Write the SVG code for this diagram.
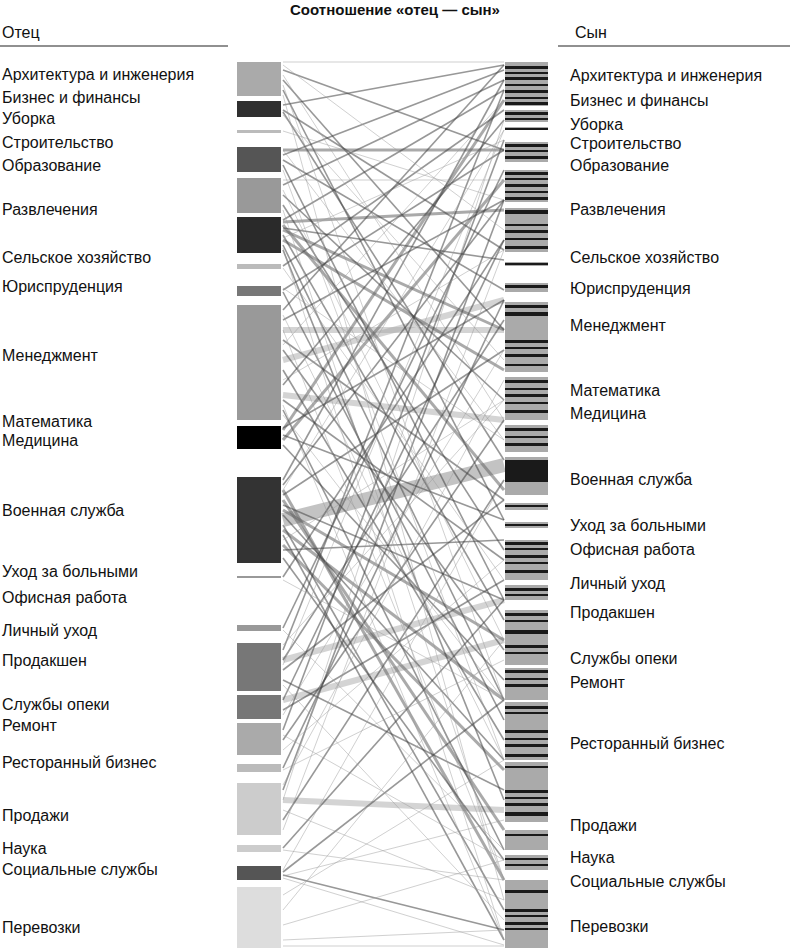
<svg xmlns="http://www.w3.org/2000/svg" width="790" height="951" viewBox="0 0 790 951">
<style>
text{font-family:"Liberation Sans",Arial,sans-serif;font-size:16px;fill:#111}
.title{font-weight:bold;font-size:15px}
.c line{stroke-linecap:butt}
.d{stroke:#444;stroke-width:1.6;opacity:.55}
.l{stroke:#999;stroke-width:1;opacity:.45}
.m{stroke:#666;stroke-width:3;opacity:.55}
.w{stroke:#aaa;stroke-width:6;opacity:.5}
.s{fill:#1a1a1a}
.g{fill:#aaa}
</style>
<rect width="790" height="951" fill="#fff"/>
<text class="title" x="395" y="15" text-anchor="middle">Соотношение «отец — сын»</text>
<text x="2" y="38">Отец</text>
<text x="575" y="38">Сын</text>
<line x1="0" y1="46" x2="228" y2="46" stroke="#222" stroke-width="1.2"/>
<line x1="558" y1="46" x2="790" y2="46" stroke="#222" stroke-width="1.2"/>

<g id="connectors" class="c">
<line class="w" x1="283" y1="330" x2="504" y2="330"/>
<line class="w" x1="283" y1="360" x2="504" y2="300"/>
<line class="w" x1="283" y1="395" x2="504" y2="420"/>
<line class="w" x1="283" y1="520" x2="504" y2="465" style="stroke-width:14;stroke:#888"/>
<line class="w" x1="283" y1="660" x2="504" y2="600"/>
<line class="w" x1="283" y1="700" x2="504" y2="640"/>
<line class="w" x1="283" y1="800" x2="504" y2="810"/>
<line class="m" x1="283" y1="222" x2="504" y2="210"/>
<line class="m" x1="283" y1="230" x2="504" y2="330"/>
<line class="m" x1="283" y1="240" x2="504" y2="370"/>
<line class="m" x1="283" y1="225" x2="504" y2="490"/>
<line class="m" x1="283" y1="150" x2="504" y2="150"/>
<line class="m" x1="283" y1="490" x2="504" y2="880"/>
<line class="m" x1="283" y1="500" x2="504" y2="830"/>
<line class="m" x1="283" y1="510" x2="504" y2="640"/>
<line class="m" x1="283" y1="530" x2="504" y2="700"/>
<line class="m" x1="283" y1="545" x2="504" y2="770"/>
<line class="m" x1="283" y1="440" x2="504" y2="180"/>
<line class="m" x1="283" y1="430" x2="504" y2="100"/>
<line class="d" x1="283" y1="70" x2="504" y2="150"/>
<line class="d" x1="283" y1="80" x2="504" y2="330"/>
<line class="d" x1="283" y1="90" x2="504" y2="520"/>
<line class="d" x1="283" y1="105" x2="504" y2="65"/>
<line class="d" x1="283" y1="110" x2="504" y2="250"/>
<line class="d" x1="283" y1="112" x2="504" y2="460"/>
<line class="d" x1="283" y1="155" x2="504" y2="70"/>
<line class="d" x1="283" y1="160" x2="504" y2="290"/>
<line class="d" x1="283" y1="165" x2="504" y2="600"/>
<line class="d" x1="283" y1="185" x2="504" y2="80"/>
<line class="d" x1="283" y1="195" x2="504" y2="400"/>
<line class="d" x1="283" y1="205" x2="504" y2="550"/>
<line class="d" x1="283" y1="220" x2="504" y2="90"/>
<line class="d" x1="283" y1="228" x2="504" y2="260"/>
<line class="d" x1="283" y1="235" x2="504" y2="620"/>
<line class="d" x1="283" y1="245" x2="504" y2="700"/>
<line class="d" x1="283" y1="250" x2="504" y2="800"/>
<line class="d" x1="283" y1="266" x2="504" y2="110"/>
<line class="d" x1="283" y1="290" x2="504" y2="150"/>
<line class="d" x1="283" y1="292" x2="504" y2="720"/>
<line class="d" x1="283" y1="310" x2="504" y2="65"/>
<line class="d" x1="283" y1="320" x2="504" y2="200"/>
<line class="d" x1="283" y1="340" x2="504" y2="500"/>
<line class="d" x1="283" y1="350" x2="504" y2="650"/>
<line class="d" x1="283" y1="370" x2="504" y2="740"/>
<line class="d" x1="283" y1="385" x2="504" y2="120"/>
<line class="d" x1="283" y1="400" x2="504" y2="560"/>
<line class="d" x1="283" y1="410" x2="504" y2="850"/>
<line class="d" x1="283" y1="428" x2="504" y2="300"/>
<line class="d" x1="283" y1="435" x2="504" y2="520"/>
<line class="d" x1="283" y1="445" x2="504" y2="680"/>
<line class="d" x1="283" y1="480" x2="504" y2="80"/>
<line class="d" x1="283" y1="485" x2="504" y2="200"/>
<line class="d" x1="283" y1="495" x2="504" y2="350"/>
<line class="d" x1="283" y1="505" x2="504" y2="600"/>
<line class="d" x1="283" y1="515" x2="504" y2="760"/>
<line class="d" x1="283" y1="525" x2="504" y2="910"/>
<line class="d" x1="283" y1="535" x2="504" y2="940"/>
<line class="d" x1="283" y1="550" x2="504" y2="540"/>
<line class="d" x1="283" y1="558" x2="504" y2="860"/>
<line class="d" x1="283" y1="577" x2="504" y2="240"/>
<line class="d" x1="283" y1="628" x2="504" y2="170"/>
<line class="d" x1="283" y1="650" x2="504" y2="90"/>
<line class="d" x1="283" y1="660" x2="504" y2="320"/>
<line class="d" x1="283" y1="670" x2="504" y2="500"/>
<line class="d" x1="283" y1="680" x2="504" y2="790"/>
<line class="d" x1="283" y1="700" x2="504" y2="240"/>
<line class="d" x1="283" y1="710" x2="504" y2="580"/>
<line class="d" x1="283" y1="730" x2="504" y2="140"/>
<line class="d" x1="283" y1="740" x2="504" y2="420"/>
<line class="d" x1="283" y1="768" x2="504" y2="300"/>
<line class="d" x1="283" y1="790" x2="504" y2="200"/>
<line class="d" x1="283" y1="820" x2="504" y2="480"/>
<line class="d" x1="283" y1="848" x2="504" y2="600"/>
<line class="d" x1="283" y1="872" x2="504" y2="700"/>
<line class="d" x1="283" y1="875" x2="504" y2="930"/>
<line class="l" x1="283" y1="65" x2="504" y2="230"/>
<line class="l" x1="283" y1="75" x2="504" y2="420"/>
<line class="l" x1="283" y1="85" x2="504" y2="700"/>
<line class="l" x1="283" y1="95" x2="504" y2="900"/>
<line class="l" x1="283" y1="115" x2="504" y2="360"/>
<line class="l" x1="283" y1="131" x2="504" y2="200"/>
<line class="l" x1="283" y1="150" x2="504" y2="440"/>
<line class="l" x1="283" y1="170" x2="504" y2="760"/>
<line class="l" x1="283" y1="180" x2="504" y2="180"/>
<line class="l" x1="283" y1="190" x2="504" y2="640"/>
<line class="l" x1="283" y1="210" x2="504" y2="880"/>
<line class="l" x1="283" y1="238" x2="504" y2="140"/>
<line class="l" x1="283" y1="248" x2="504" y2="940"/>
<line class="l" x1="283" y1="268" x2="504" y2="580"/>
<line class="l" x1="283" y1="288" x2="504" y2="440"/>
<line class="l" x1="283" y1="315" x2="504" y2="760"/>
<line class="l" x1="283" y1="330" x2="504" y2="880"/>
<line class="l" x1="283" y1="345" x2="504" y2="100"/>
<line class="l" x1="283" y1="380" x2="504" y2="250"/>
<line class="l" x1="283" y1="405" x2="504" y2="940"/>
<line class="l" x1="283" y1="415" x2="504" y2="700"/>
<line class="l" x1="283" y1="490" x2="504" y2="130"/>
<line class="l" x1="283" y1="540" x2="504" y2="400"/>
<line class="l" x1="283" y1="580" x2="504" y2="700"/>
<line class="l" x1="283" y1="630" x2="504" y2="850"/>
<line class="l" x1="283" y1="645" x2="504" y2="400"/>
<line class="l" x1="283" y1="665" x2="504" y2="130"/>
<line class="l" x1="283" y1="685" x2="504" y2="920"/>
<line class="l" x1="283" y1="715" x2="504" y2="350"/>
<line class="l" x1="283" y1="735" x2="504" y2="860"/>
<line class="l" x1="283" y1="750" x2="504" y2="560"/>
<line class="l" x1="283" y1="770" x2="504" y2="660"/>
<line class="l" x1="283" y1="785" x2="504" y2="380"/>
<line class="l" x1="283" y1="800" x2="504" y2="120"/>
<line class="l" x1="283" y1="810" x2="504" y2="900"/>
<line class="l" x1="283" y1="830" x2="504" y2="250"/>
<line class="l" x1="283" y1="850" x2="504" y2="880"/>
<line class="l" x1="283" y1="870" x2="504" y2="480"/>
<line class="l" x1="283" y1="876" x2="504" y2="820"/>
<line class="l" x1="283" y1="878" x2="504" y2="945"/>
<line class="l" x1="283" y1="895" x2="504" y2="760"/>
<line class="l" x1="283" y1="910" x2="504" y2="640"/>
<line class="l" x1="283" y1="925" x2="504" y2="860"/>
<line class="l" x1="283" y1="940" x2="504" y2="930"/>
<line class="l" x1="283" y1="62" x2="504" y2="62"/>
<line class="l" x1="283" y1="946" x2="504" y2="946"/>
</g>

<g id="father-bars">
<rect x="237" y="62" width="44" height="34" fill="#aaa"/>
<rect x="237" y="101" width="44" height="16" fill="#2f2f2f"/>
<rect x="237" y="130" width="44" height="3" fill="#bbb"/>
<rect x="237" y="147" width="44" height="25" fill="#555"/>
<rect x="237" y="178" width="44" height="35" fill="#999"/>
<rect x="237" y="217" width="44" height="36" fill="#2a2a2a"/>
<rect x="237" y="264" width="44" height="5" fill="#bbb"/>
<rect x="237" y="286" width="44" height="10" fill="#777"/>
<rect x="237" y="305" width="44" height="115" fill="#999"/>
<rect x="237" y="426" width="44" height="23" fill="#000"/>
<rect x="237" y="477" width="44" height="86" fill="#333"/>
<rect x="237" y="576" width="44" height="2" fill="#999"/>
<rect x="237" y="625" width="44" height="6" fill="#999"/>
<rect x="237" y="643" width="44" height="48" fill="#777"/>
<rect x="237" y="695" width="44" height="24" fill="#777"/>
<rect x="237" y="723" width="44" height="32" fill="#aaa"/>
<rect x="237" y="764" width="44" height="8" fill="#bbb"/>
<rect x="237" y="783" width="44" height="52" fill="#ccc"/>
<rect x="237" y="845" width="44" height="7" fill="#ccc"/>
<rect x="237" y="866" width="44" height="14" fill="#555"/>
<rect x="237" y="887" width="44" height="61" fill="#ddd"/>
</g>

<g id="son-bars">
<rect class="g" x="505" y="62" width="43" height="44"/>
<rect class="g" x="505" y="110" width="43" height="12"/>
<rect class="g" x="505" y="127" width="43" height="3"/>
<rect class="g" x="505" y="142" width="43" height="20"/>
<rect class="g" x="505" y="170" width="43" height="32"/>
<rect class="g" x="505" y="208" width="43" height="44"/>
<rect class="g" x="505" y="262" width="43" height="4"/>
<rect class="g" x="505" y="283" width="43" height="9"/>
<rect class="g" x="505" y="302" width="43" height="70"/>
<rect class="g" x="505" y="377" width="43" height="43"/>
<rect class="g" x="505" y="425" width="43" height="27"/>
<rect class="g" x="505" y="457" width="43" height="38"/>
<rect class="g" x="505" y="503" width="43" height="7"/>
<rect class="g" x="505" y="522" width="43" height="6"/>
<rect class="g" x="505" y="540" width="43" height="40"/>
<rect class="g" x="505" y="585" width="43" height="15"/>
<rect class="g" x="505" y="610" width="43" height="55"/>
<rect class="g" x="505" y="668" width="43" height="32"/>
<rect class="g" x="505" y="702" width="43" height="58"/>
<rect class="g" x="505" y="762" width="43" height="60"/>
<rect class="g" x="505" y="830" width="43" height="20"/>
<rect class="g" x="505" y="855" width="43" height="15"/>
<rect class="g" x="505" y="880" width="43" height="68"/>
<rect class="s" x="505" y="460" width="43" height="22"/>
<g class="s">
<rect x="505" y="66" width="43" height="3"/><rect x="505" y="72" width="43" height="2"/><rect x="505" y="77" width="43" height="3"/><rect x="505" y="84" width="43" height="2"/><rect x="505" y="90" width="43" height="3"/><rect x="505" y="97" width="43" height="2"/><rect x="505" y="102" width="43" height="3"/>
<rect x="505" y="112" width="43" height="3"/><rect x="505" y="118" width="43" height="2"/>
<rect x="505" y="128" width="43" height="2"/>
<rect x="505" y="144" width="43" height="3"/><rect x="505" y="150" width="43" height="2"/><rect x="505" y="156" width="43" height="3"/>
<rect x="505" y="172" width="43" height="3"/><rect x="505" y="178" width="43" height="2"/><rect x="505" y="184" width="43" height="3"/><rect x="505" y="191" width="43" height="2"/><rect x="505" y="197" width="43" height="3"/>
<rect x="505" y="210" width="43" height="4"/><rect x="505" y="224" width="43" height="2"/><rect x="505" y="230" width="43" height="3"/><rect x="505" y="238" width="43" height="2"/><rect x="505" y="246" width="43" height="3"/>
<rect x="505" y="263" width="43" height="2"/>
<rect x="505" y="285" width="43" height="3"/>
<rect x="505" y="305" width="43" height="3"/><rect x="505" y="312" width="43" height="4"/><rect x="505" y="340" width="43" height="3"/><rect x="505" y="347" width="43" height="2"/><rect x="505" y="354" width="43" height="3"/><rect x="505" y="364" width="43" height="2"/>
<rect x="505" y="380" width="43" height="3"/><rect x="505" y="388" width="43" height="2"/><rect x="505" y="394" width="43" height="3"/><rect x="505" y="402" width="43" height="2"/><rect x="505" y="410" width="43" height="3"/>
<rect x="505" y="428" width="43" height="3"/><rect x="505" y="436" width="43" height="2"/><rect x="505" y="443" width="43" height="3"/>
<rect x="505" y="505" width="43" height="2"/><rect x="505" y="524" width="43" height="2"/>
<rect x="505" y="542" width="43" height="3"/><rect x="505" y="548" width="43" height="2"/><rect x="505" y="555" width="43" height="3"/><rect x="505" y="562" width="43" height="2"/><rect x="505" y="570" width="43" height="3"/>
<rect x="505" y="588" width="43" height="3"/><rect x="505" y="594" width="43" height="2"/>
<rect x="505" y="613" width="43" height="3"/><rect x="505" y="620" width="43" height="2"/><rect x="505" y="630" width="43" height="4"/><rect x="505" y="645" width="43" height="3"/><rect x="505" y="652" width="43" height="2"/>
<rect x="505" y="670" width="43" height="3"/><rect x="505" y="678" width="43" height="2"/><rect x="505" y="684" width="43" height="3"/>
<rect x="505" y="706" width="43" height="3"/><rect x="505" y="712" width="43" height="2"/><rect x="505" y="730" width="43" height="3"/><rect x="505" y="738" width="43" height="2"/><rect x="505" y="744" width="43" height="3"/><rect x="505" y="754" width="43" height="3"/>
<rect x="505" y="766" width="43" height="2"/><rect x="505" y="790" width="43" height="3"/><rect x="505" y="797" width="43" height="2"/><rect x="505" y="803" width="43" height="3"/><rect x="505" y="812" width="43" height="4"/>
<rect x="505" y="834" width="43" height="2"/><rect x="505" y="858" width="43" height="2"/><rect x="505" y="864" width="43" height="2"/>
<rect x="505" y="890" width="43" height="3"/><rect x="505" y="909" width="43" height="3"/><rect x="505" y="915" width="43" height="2"/><rect x="505" y="922" width="43" height="3"/><rect x="505" y="928" width="43" height="2"/>
</g>
</g>

<g id="father-labels">
<text x="2" y="80">Архитектура и инженерия</text>
<text x="2" y="103">Бизнес и финансы</text>
<text x="2" y="124">Уборка</text>
<text x="2" y="148">Строительство</text>
<text x="2" y="171">Образование</text>
<text x="2" y="215">Развлечения</text>
<text x="2" y="263">Сельское хозяйство</text>
<text x="2" y="292">Юриспруденция</text>
<text x="2" y="361">Менеджмент</text>
<text x="2" y="427">Математика</text>
<text x="2" y="446">Медицина</text>
<text x="2" y="516">Военная служба</text>
<text x="2" y="577">Уход за больными</text>
<text x="2" y="603">Офисная работа</text>
<text x="2" y="636">Личный уход</text>
<text x="2" y="666">Продакшен</text>
<text x="2" y="710">Службы опеки</text>
<text x="2" y="731">Ремонт</text>
<text x="2" y="768">Ресторанный бизнес</text>
<text x="2" y="821">Продажи</text>
<text x="2" y="854">Наука</text>
<text x="2" y="875">Социальные службы</text>
<text x="2" y="933">Перевозки</text>
</g>
<g id="son-labels">
<text x="570" y="81">Архитектура и инженерия</text>
<text x="570" y="106">Бизнес и финансы</text>
<text x="570" y="130">Уборка</text>
<text x="570" y="149">Строительство</text>
<text x="570" y="171">Образование</text>
<text x="570" y="215">Развлечения</text>
<text x="570" y="263">Сельское хозяйство</text>
<text x="570" y="294">Юриспруденция</text>
<text x="570" y="331">Менеджмент</text>
<text x="570" y="396">Математика</text>
<text x="570" y="419">Медицина</text>
<text x="570" y="485">Военная служба</text>
<text x="570" y="531">Уход за больными</text>
<text x="570" y="555">Офисная работа</text>
<text x="570" y="589">Личный уход</text>
<text x="570" y="618">Продакшен</text>
<text x="570" y="664">Службы опеки</text>
<text x="570" y="688">Ремонт</text>
<text x="570" y="749">Ресторанный бизнес</text>
<text x="570" y="831">Продажи</text>
<text x="570" y="863">Наука</text>
<text x="570" y="887">Социальные службы</text>
<text x="570" y="932">Перевозки</text>
</g>
</svg>
